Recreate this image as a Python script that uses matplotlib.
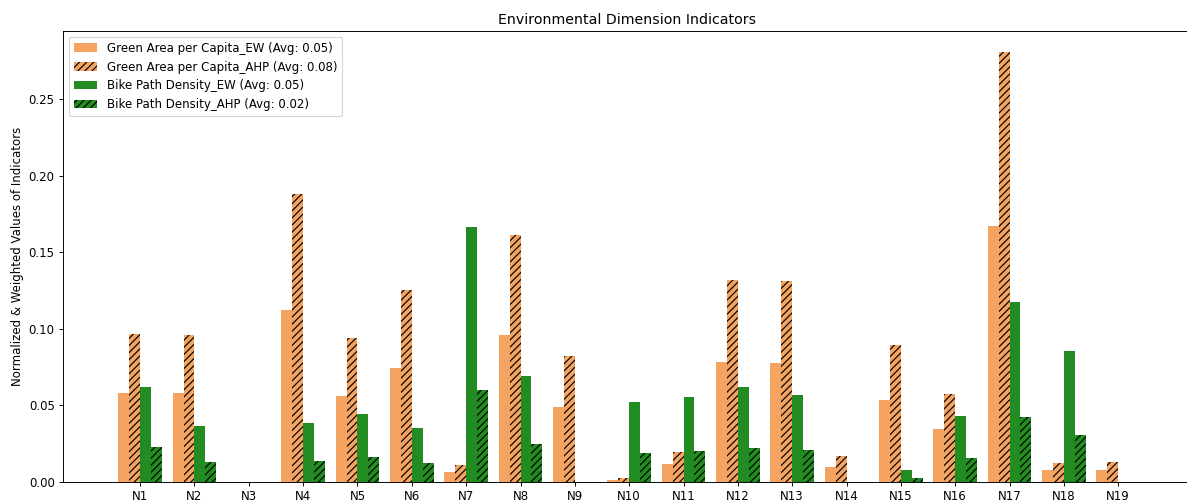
import numpy as np
import matplotlib
matplotlib.use("Agg")
import matplotlib.pyplot as plt

categories = ["N1", "N2", "N3", "N4", "N5", "N6", "N7", "N8", "N9", "N10",
              "N11", "N12", "N13", "N14", "N15", "N16", "N17", "N18", "N19"]

green_ew = [0.0579, 0.0579, 0.0, 0.1121, 0.0560, 0.0745, 0.0063, 0.0962, 0.0492, 0.0015,
            0.0117, 0.0785, 0.0779, 0.0100, 0.0535, 0.0344, 0.1671, 0.0078, 0.0078]
green_ahp = [0.0969, 0.0962, 0.0, 0.1880, 0.0943, 0.1252, 0.0110, 0.1616, 0.0823, 0.0024,
             0.0196, 0.1318, 0.1312, 0.0170, 0.0892, 0.0572, 0.2807, 0.0124, 0.0129]
bike_ew = [0.0618, 0.0368, 0.0, 0.0385, 0.0442, 0.0351, 0.1667, 0.0692, 0.0, 0.0526,
           0.0555, 0.0618, 0.0566, 0.0, 0.0078, 0.0431, 0.1177, 0.0857, 0.0]
bike_ahp = [0.0226, 0.0131, 0.0, 0.0137, 0.0162, 0.0127, 0.0604, 0.0251, 0.0, 0.0189,
            0.0200, 0.0224, 0.0207, 0.0, 0.0028, 0.0157, 0.0426, 0.0307, 0.0]

series = [
    ("Green Area per Capita_EW", green_ew, "sandybrown", None),
    ("Green Area per Capita_AHP", green_ahp, "sandybrown", "////"),
    ("Bike Path Density_EW", bike_ew, "forestgreen", None),
    ("Bike Path Density_AHP", bike_ahp, "forestgreen", "////"),
]

DPI = 85
fig = plt.figure(figsize=(1187 / DPI, 500 / DPI), dpi=DPI)
ax = fig.add_axes([63 / 1187, 1 - 482 / 500, (1191 - 63) / 1187, (482 - 31) / 500])

x = np.arange(len(categories))
width = 0.2
for i, (name, vals, color, hatch) in enumerate(series):
    avg = np.mean(vals)
    ax.bar(x + (i - 1.5) * width, vals, width, color=color, hatch=hatch,
           label=f"{name} (Avg: {avg:.2f})")

ax.set_xticks(x)
ax.set_xticklabels(categories)
ax.set_xlim(-1.42, 19.34)
ax.set_ylim(0, 0.2947)
ax.set_ylabel("Normalized & Weighted Values of Indicators")
ax.set_title("Environmental Dimension Indicators")
ax.legend(loc="upper left")

fig.savefig("out.png", dpi=DPI)
